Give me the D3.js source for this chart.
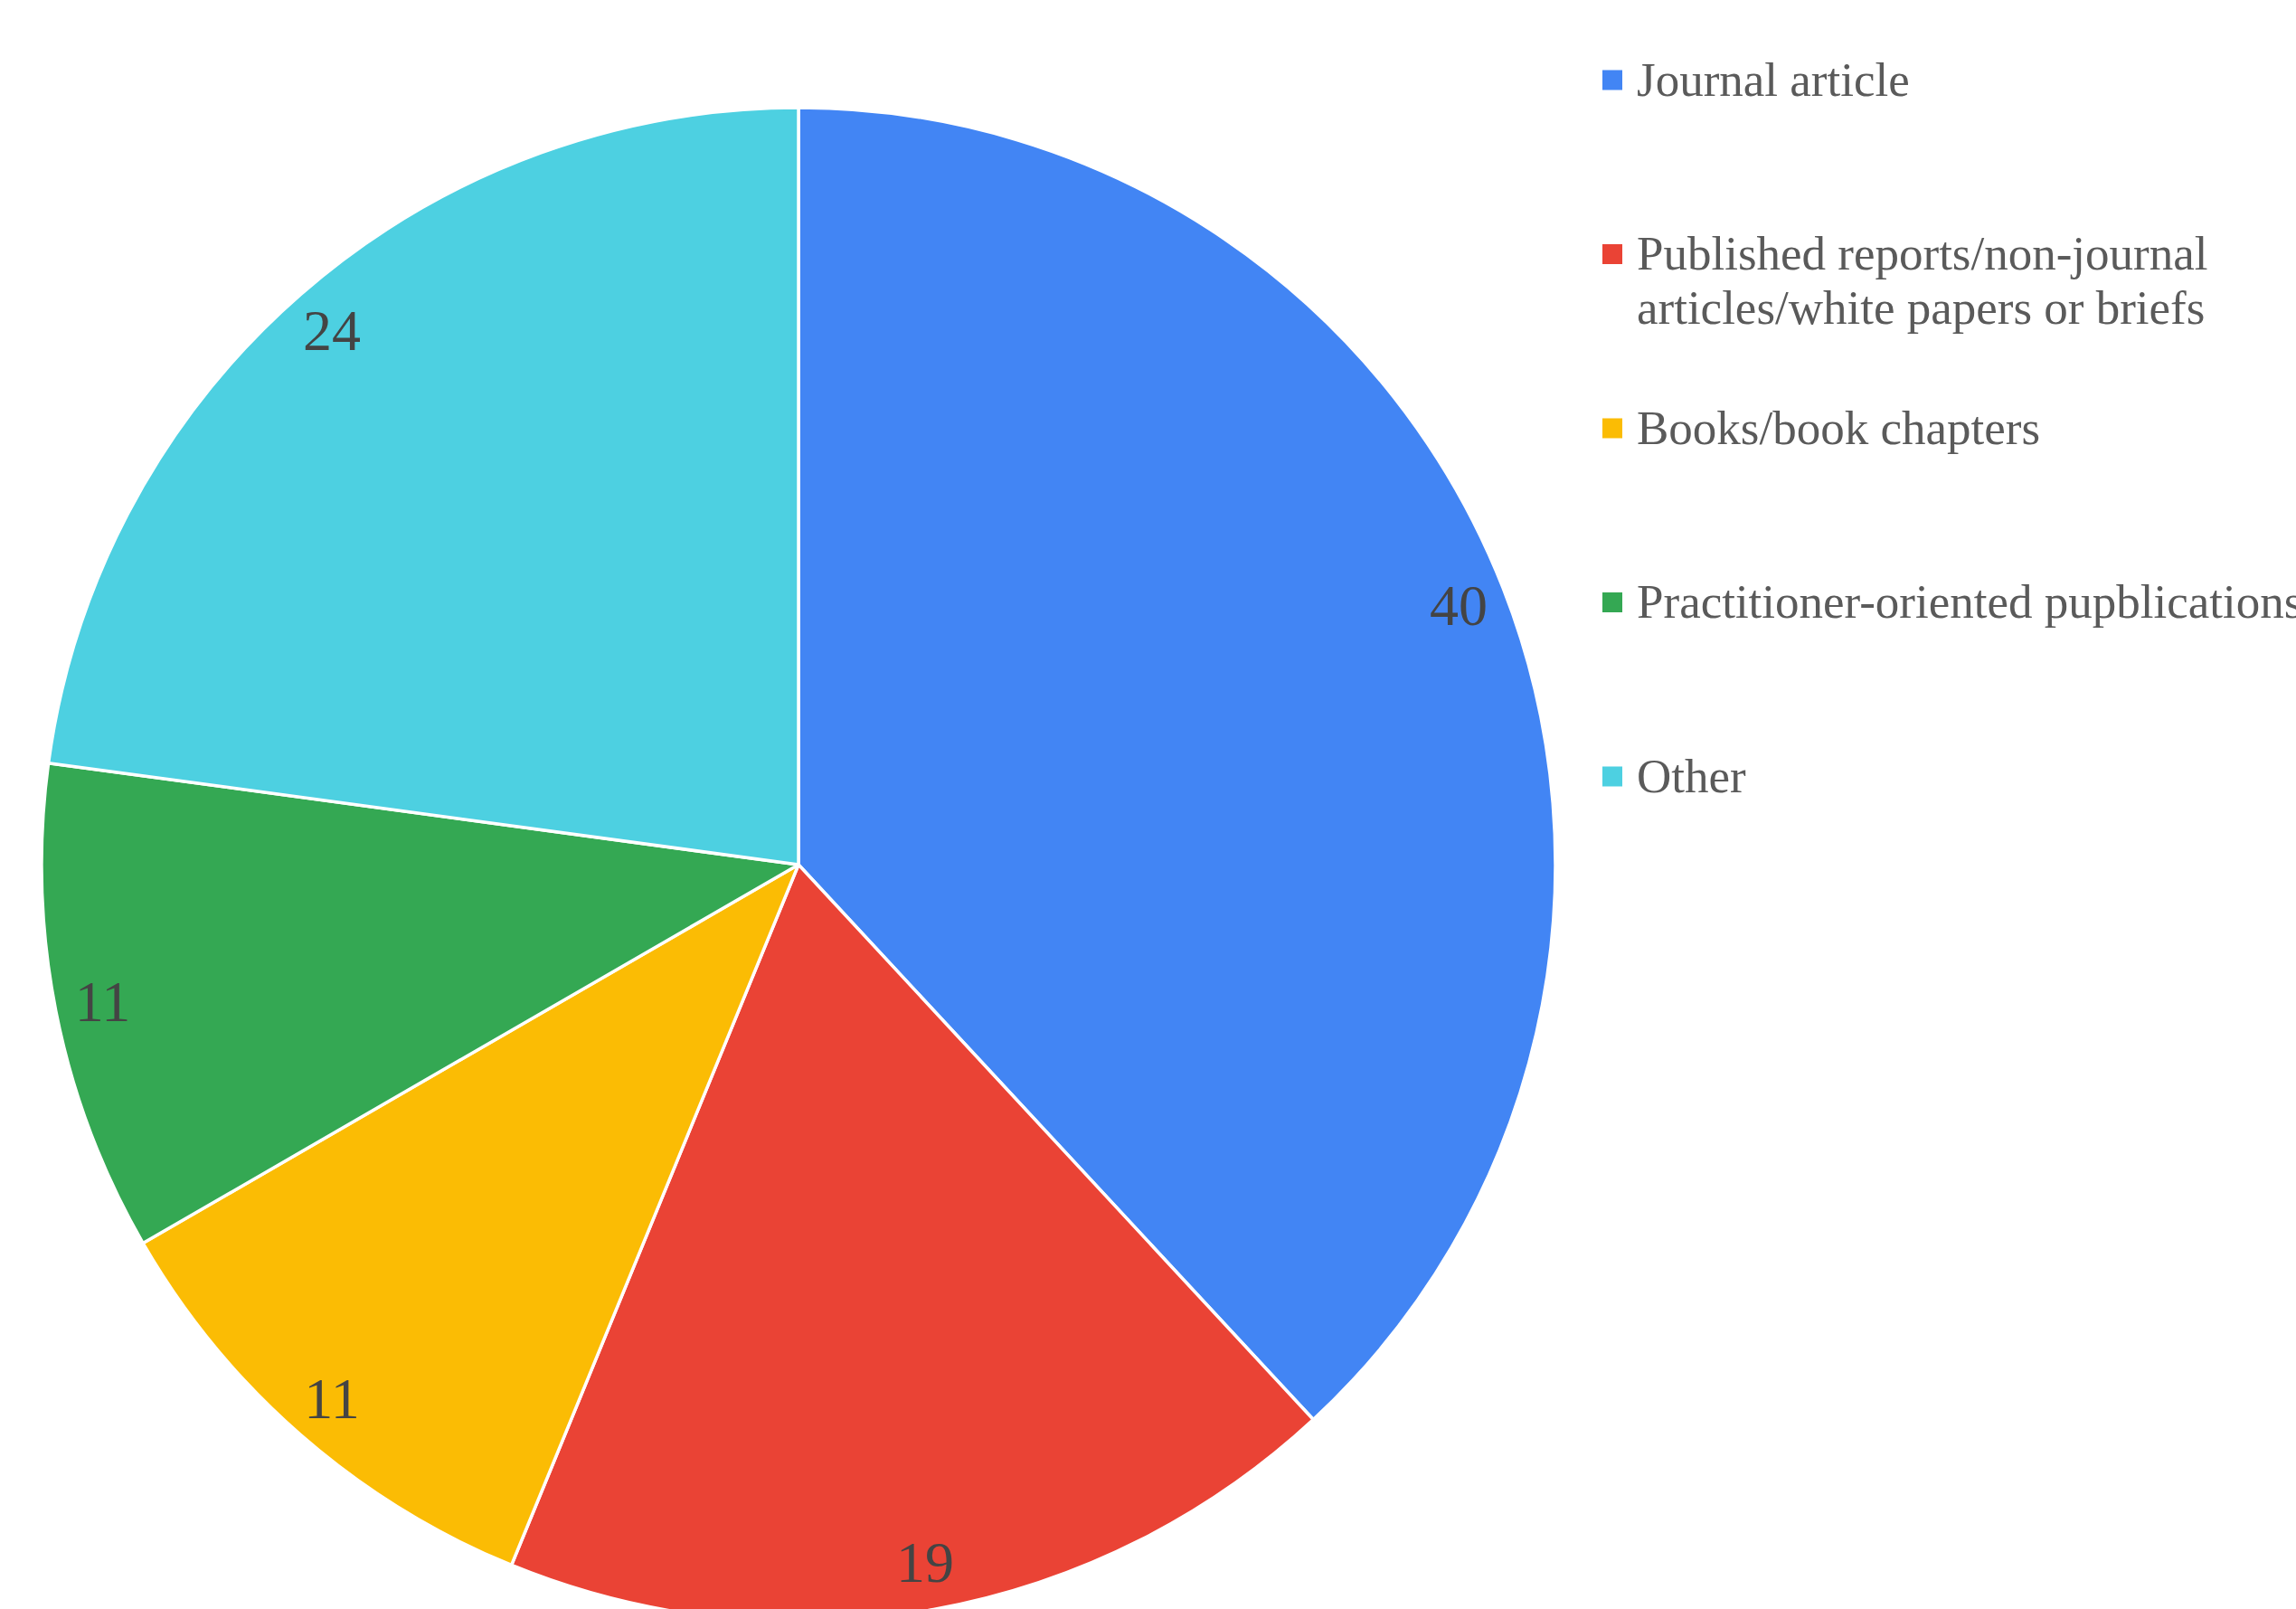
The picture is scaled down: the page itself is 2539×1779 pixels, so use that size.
<!DOCTYPE html>
<html>
<head>
<meta charset="utf-8">
<script src="https://cdn.jsdelivr.net/npm/d3@7"></script>
<style>
  html, body { margin: 0; padding: 0; background: #ffffff; }
  svg { display: block; }
</style>
</head>
<body>
<svg id="chart" width="2539" height="1779"></svg>
<script>
// Publication types and their counts
const categories = [
  "Journal article",
  "Published reports/non-journal articles/white papers or briefs",
  "Books/book chapters",
  "Practitioner-oriented pupblications",
  "Other"
];
const values = [40, 19, 11, 11, 24];
const colors = ["#4285F4", "#EA4335", "#FBBC04", "#34A853", "#4DD0E1"];
// Legend text as it wraps onto lines
const legendLines = [
  ["Journal article"],
  ["Published reports/non-journal", "articles/white papers or briefs"],
  ["Books/book chapters"],
  ["Practitioner-oriented pupblications"],
  ["Other"]
];

const data = categories.map((c, i) => ({ category: c, value: values[i], color: colors[i], lines: legendLines[i] }));

const svg = d3.select("#chart");
const cx = 883, cy = 956, radius = 837;
const fontFamily = "'Liberation Serif', 'Times New Roman', Times, serif";

const pie = d3.pie().sort(null).value(d => d.value);
const arc = d3.arc().innerRadius(0).outerRadius(radius);
const labelArc = d3.arc().innerRadius(radius * 0.937).outerRadius(radius * 0.937);

const arcs = pie(data);

const g = svg.append("g").attr("transform", `translate(${cx},${cy})`);

g.selectAll("path.slice")
  .data(arcs)
  .join("path")
  .attr("class", "slice")
  .attr("d", arc)
  .attr("fill", d => d.data.color)
  .attr("stroke", "#ffffff")
  .attr("stroke-width", 3.5)
  .attr("stroke-linejoin", "round");

g.selectAll("text.value")
  .data(arcs)
  .join("text")
  .attr("class", "value")
  .attr("x", d => labelArc.centroid(d)[0])
  .attr("y", d => labelArc.centroid(d)[1])
  .attr("dy", "0.34em")
  .attr("text-anchor", "middle")
  .attr("font-family", fontFamily)
  .attr("font-size", 64)
  .attr("fill", "#444444")
  .text(d => d.data.value);

// Legend on the right
const legendX = 1772, legendTop = 88.5, legendStep = 192.5;
const legend = svg.append("g")
  .selectAll("g.item")
  .data(data)
  .join("g")
  .attr("class", "item")
  .attr("transform", (d, i) => `translate(${legendX},${legendTop + i * legendStep})`);

legend.append("rect")
  .attr("x", 0)
  .attr("y", -11)
  .attr("width", 22)
  .attr("height", 22)
  .attr("fill", d => d.color);

legend.append("text")
  .attr("x", 38)
  .attr("y", 17)
  .attr("font-family", fontFamily)
  .attr("font-size", 53)
  .attr("fill", "#5a5a5a")
  .selectAll("tspan")
  .data(d => d.lines)
  .join("tspan")
  .attr("x", 38)
  .attr("dy", (d, i) => i === 0 ? 0 : 60)
  .text(d => d);
</script>
</body>
</html>
